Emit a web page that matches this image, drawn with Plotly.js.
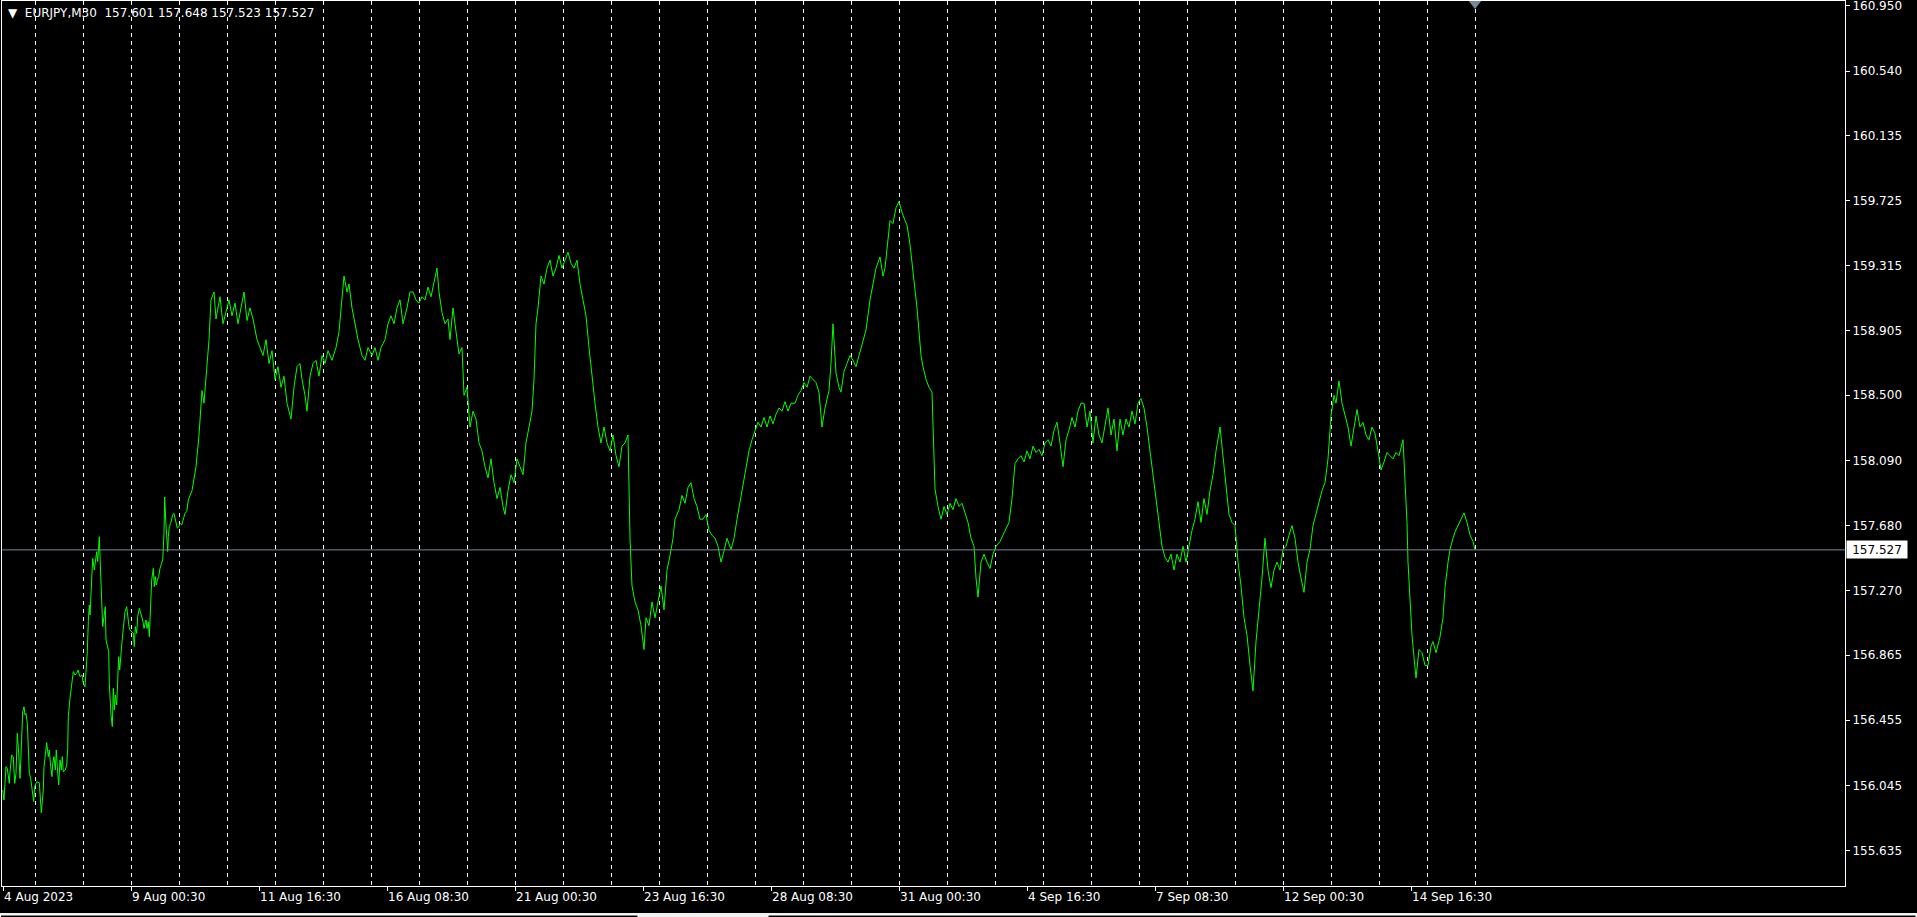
<!DOCTYPE html>
<html>
<head>
<meta charset="utf-8">
<script src="https://cdn.plot.ly/plotly-3.0.1.min.js"></script>
<style>
html,body{margin:0;padding:0;background:#000;overflow:hidden;}
#chart{width:1917px;height:917px;}
</style>
</head>
<body>
<div id="chart"></div>
<script>
// ---- DATA (EURJPY, M30, bar index -> close price) ----
const symbolName = 'EURJPY,M30';
const lastOHLC = [157.601, 157.648, 157.523, 157.527];

const barIndex = [
0.7,2,3,4,5.3,7.3,8,9.7,11.3,12.7,
14,15.3,16.7,18,18.7,20,20.7,22,23,24,
25.3,26,27.3,28.7,30.3,31.7,32.7,34.7,37.3,38.3,
39.3,40.3,41.3,42,43.7,44.7,46.3,47.3,48.7,50,
50.7,52,53.3,54.3,55.3,56.7,58,59.3,60.3,61.3,
63.3,64.7,65.7,66.3,68,69.3,71.3,73,74.7,76,
78,80,81.3,83,84,85.3,86.3,87.3,88,89,
89.7,90.7,92.3,93.3,94.7,95.7,96.3,97.3,98,99,
99.7,100.7,102,103.3,104,105.3,106.7,107.3,108,109,
110.3,111.3,112.3,113.3,114.7,115.7,116.7,117.7,118.7,119.7,
121.3,123,124.7,125.7,127,128,129.7,131.3,132.3,133.3,
134.7,135.7,137.3,139,140.7,142,144,145,146.3,147.3,
148.7,149.7,151.3,152.3,153.3,154.3,155.3,156.7,158,159.3,
160.7,162,162.7,163.7,164.7,165.7,166.3,167.3,168.7,170.7,
172,174,175.3,176.7,178,179.7,181.3,183,184.7,186.3,
190,194,197,200,202,204,207,209,212,214,
216,218,221,224,227,230,233,236,239,242,
245,248,251,255,258,261,264,267,270,273,
276,279,282,285,289,292,295,298,300,303,
305,308,311,314,317,320,323,326,330,334,
337,340,342,345,347,350,353,356,360,363,
366,370,373,376,379,383,386,389,392,395,
398,401,405,408,411,414,417,420,423,426,
429,432,435,437,440,443,446,448,451,454,
457,460,462,465,468,471,474,477,480,483,
486,489,492,495,498,501,503,506,509,512,
515,518,521,524,527,530,532,534,536,539,
542,545,548,551,554,557,560,563,566,569,
572,575,578,581,584,587,590,593,596,599,
602,605,608,611,614,617,620,623,626,628,
630,633,636,639,642,644,647,650,653,656,
659,662,665,668,671,673,677,680,683,686,
689,692,695,698,701,704,707,710,713,716,
719,722,725,729,732,735,738,741,744,747,
750,753,756,759,762,765,768,771,774,777,
780,783,786,789,793,796,799,802,805,808,
811,814,817,820,823,827,829,831,834,837,
839,842,845,848,851,854,857,860,864,868,
871,874,878,881,883,886,888,891,894,897,
900,903,905,908,910,912,915,917,919,921,
924,927,930,933,936,939,942,945,948,951,
954,957,960,963,966,969,972,974,976,979,
982,985,988,991,994,998,1001,1004,1007,1010,
1013,1016,1019,1022,1025,1028,1031,1034,1037,1040,
1043,1046,1049,1052,1055,1058,1061,1064,1067,1070,
1073,1076,1079,1082,1085,1088,1091,1094,1097,1100,
1103,1106,1109,1112,1115,1118,1121,1124,1127,1130,
1133,1136,1139,1142,1145,1148,1151,1154,1157,1160,
1163,1166,1169,1172,1175,1178,1181,1184,1187,1190,
1193,1196,1199,1202,1205,1208,1211,1214,1218,1221,
1224,1227,1230,1233,1236,1239,1242,1245,1248,1251,
1254,1257,1260,1263,1266,1269,1272,1275,1278,1281,
1284,1287,1290,1293,1296,1299,1302,1305,1308,1311,
1314,1317,1320,1323,1326,1329,1332,1334,1337,1340,
1343,1346,1349,1352,1355,1358,1361,1364,1367,1370,
1373,1376,1379,1382,1385,1388,1391,1394,1397,1401,
1403,1405,1406,1408,1410,1412,1414,1417,1420,1423,
1426,1429,1431,1434,1438,1441,1443,1446,1448,1451,
1453,1456,1459,1462,1465,1468,1471,1473
];

const closePrice = [
156.016,155.953,156.058,156.163,156.152,156.058,156.131,156.236,156.226,156.058,
156.121,156.373,156.247,156.089,156.184,156.394,156.509,156.540,156.488,156.498,
156.436,156.331,156.121,156.089,155.995,155.943,156.037,156.068,156.062,155.922,
155.873,155.943,156.016,156.163,156.278,156.314,156.226,156.268,156.163,156.100,
156.184,156.226,156.142,156.268,156.163,156.048,156.205,156.142,156.226,156.131,
156.142,156.173,156.278,156.478,156.593,156.656,156.761,156.740,156.750,156.771,
156.729,156.740,156.687,156.666,156.761,156.887,157.075,157.180,157.117,157.222,
157.338,157.474,157.401,157.453,157.516,157.453,157.526,157.610,157.484,157.317,
157.149,157.044,157.107,157.170,156.960,156.918,156.887,156.687,156.582,156.488,
156.415,156.656,156.519,156.614,156.551,156.677,156.855,156.771,156.866,156.928,
157.033,157.138,157.170,157.096,157.044,157.023,157.012,157.002,156.918,157.044,
157.002,157.107,157.159,157.117,157.086,157.033,157.086,157.033,157.075,156.981,
157.222,157.338,157.411,157.296,157.359,157.306,157.338,157.359,157.411,157.442,
157.463,157.631,157.860,157.715,157.631,157.516,157.610,157.673,157.694,157.747,
157.757,157.705,157.663,157.673,157.694,157.684,157.726,157.757,157.768,157.841,
157.90,158.05,158.25,158.53,158.45,158.60,158.85,159.10,159.15,158.98,
159.05,159.12,158.95,159.03,159.10,159.00,159.08,158.95,159.05,159.15,
158.97,159.05,158.98,158.85,158.80,158.75,158.85,158.70,158.78,158.60,
158.68,158.55,158.62,158.45,158.35,158.55,158.68,158.70,158.60,158.50,
158.40,158.62,158.70,158.72,158.62,158.75,158.70,158.78,158.72,158.80,
158.90,159.10,159.25,159.15,159.20,159.05,158.95,158.85,158.75,158.72,
158.80,158.75,158.80,158.72,158.80,158.85,158.95,159.00,158.95,159.05,
159.10,158.95,159.05,159.15,159.15,159.10,159.08,159.12,159.10,159.18,
159.12,159.20,159.30,159.15,159.02,158.95,158.98,158.85,159.05,158.90,
158.76,158.80,158.50,158.55,158.30,158.40,158.35,158.20,158.15,158.05,
157.98,158.10,157.95,157.85,157.92,157.80,157.75,157.90,158.00,157.95,
158.10,158.05,158.00,158.20,158.30,158.40,158.60,158.95,159.05,159.25,
159.20,159.30,159.35,159.25,159.30,159.38,159.30,159.35,159.40,159.33,
159.30,159.35,159.20,159.10,159.00,158.80,158.60,158.45,158.30,158.20,
158.30,158.20,158.15,158.25,158.12,158.05,158.18,158.20,158.25,157.60,
157.30,157.20,157.15,157.05,156.90,157.10,157.05,157.20,157.10,157.20,
157.30,157.15,157.40,157.49,157.60,157.72,157.78,157.87,157.82,157.92,
157.95,157.85,157.80,157.72,157.72,157.75,157.65,157.62,157.60,157.55,
157.45,157.52,157.60,157.53,157.60,157.72,157.83,157.95,158.06,158.15,
158.22,158.28,158.33,158.30,158.36,158.30,158.37,158.32,158.38,158.42,
158.40,158.46,158.40,158.45,158.45,158.50,158.53,158.58,158.55,158.62,
158.60,158.58,158.52,158.30,158.42,158.53,158.70,158.95,158.64,158.55,
158.52,158.65,158.70,158.75,158.72,158.68,158.75,158.82,158.91,159.10,
159.20,159.30,159.37,159.25,159.30,159.50,159.60,159.58,159.68,159.72,
159.65,159.60,159.57,159.45,159.35,159.22,159.05,158.91,158.75,158.68,
158.60,158.55,158.52,157.91,157.80,157.72,157.80,157.75,157.82,157.78,
157.85,157.80,157.82,157.76,157.70,157.60,157.55,157.35,157.23,157.45,
157.50,157.45,157.41,157.50,157.55,157.58,157.62,157.65,157.70,157.85,
158.07,158.10,158.12,158.08,158.15,158.10,158.18,158.14,158.16,158.12,
158.20,158.22,158.18,158.28,158.33,158.20,158.05,158.22,158.28,158.36,
158.30,158.40,158.45,158.45,158.30,158.40,158.20,158.37,158.25,158.20,
158.32,158.42,158.25,158.35,158.15,158.35,158.25,158.35,158.30,158.40,
158.32,158.45,158.48,158.42,158.30,158.15,158.00,157.85,157.70,157.55,
157.48,157.45,157.50,157.40,157.50,157.45,157.55,157.45,157.55,157.65,
157.72,157.83,157.70,157.85,157.75,157.90,158.00,158.15,158.30,158.10,
157.95,157.75,157.70,157.68,157.45,157.30,157.10,156.99,156.80,156.64,
156.95,157.14,157.35,157.60,157.40,157.29,157.40,157.45,157.40,157.53,
157.55,157.62,157.68,157.60,157.45,157.35,157.26,157.45,157.53,157.68,
157.75,157.83,157.90,157.95,158.10,158.37,158.50,158.45,158.59,158.45,
158.37,158.30,158.18,158.30,158.41,158.30,158.33,158.25,158.22,158.30,
158.26,158.15,158.03,158.08,158.14,158.12,158.10,158.14,158.12,158.22,
158.00,157.70,157.45,157.20,156.99,156.85,156.72,156.90,156.88,156.80,
156.80,156.92,156.95,156.88,156.98,157.10,157.29,157.45,157.53,157.60,
157.64,157.68,157.72,157.76,157.70,157.62,157.58,157.527
];

// time-axis labels (every 128 bars) and price-axis labels
const xTickBars = [1,129,257,385,513,641,769,897,1025,1153,1281,1409];
const xTickText = ['4 Aug 2023','9 Aug 00:30','11 Aug 16:30','16 Aug 08:30','21 Aug 00:30','23 Aug 16:30','28 Aug 08:30','31 Aug 00:30','4 Sep 16:30','7 Sep 08:30','12 Sep 00:30','14 Sep 16:30'];
const yTickVals = [160.950,160.540,160.135,159.725,159.315,158.905,158.500,158.090,157.680,157.270,156.865,156.455,156.045,155.635];
const yRange = [155.412, 160.981];
const xRange = [0, 1843];
const barsPerDay = 48;
const firstDayBar = 33;

// ---- BUILD ----
const lastBar = barIndex[barIndex.length - 1];
const lastClose = closePrice[closePrice.length - 1];
const gridBars = [];
for (let b = firstDayBar; b <= lastBar + 0.5; b += barsPerDay) gridBars.push(b);

const W = 1917, H = 917;
const M = {l: 2, r: 72, t: 1, b: 31};
const plotW = W - M.l - M.r, plotH = H - M.t - M.b;
const pxX = px => (px - M.l) / plotW;           // pixel -> paper x
const pxY = py => (H - M.b - py) / plotH;        // pixel -> paper y
const unitsPerPx = (yRange[1] - yRange[0]) / plotH;

const fontFam = 'DejaVu Sans, Verdana, sans-serif';

const traces = [
  {
    x: barIndex, y: closePrice, type: 'scatter', mode: 'lines',
    line: {color: '#00ff00', width: 1, shape: 'linear'},
    hoverinfo: 'skip'
  },
  {
    x: [lastBar], y: [yRange[1] - 2 * unitsPerPx], type: 'scatter', mode: 'markers',
    marker: {symbol: 'triangle-down', size: 12, color: '#778899', line: {width: 0}},
    cliponaxis: false, hoverinfo: 'skip'
  }
];

const layout = {
  width: W, height: H,
  paper_bgcolor: '#000000', plot_bgcolor: '#000000',
  margin: M,
  showlegend: false,
  font: {family: fontFam, size: 12, color: '#ffffff'},
  xaxis: {
    range: xRange, fixedrange: true,
    tickmode: 'array', tickvals: xTickBars, ticktext: xTickText,
    ticks: 'outside', ticklen: 4, tickwidth: 1, tickcolor: '#ffffff',
    ticklabelposition: 'outside right', ticklabeloverflow: 'allow',
    tickfont: {family: fontFam, size: 12, color: '#ffffff'},
    showgrid: false, zeroline: false,
    showline: true, linecolor: '#ffffff', linewidth: 1, mirror: true,
    minor: {tickmode: 'array', tickvals: gridBars, showgrid: true, gridcolor: '#ffffff', gridwidth: 1, griddash: '4px,4px', ticks: ''}
  },
  yaxis: {
    side: 'right', range: yRange, fixedrange: true,
    tickmode: 'array', tickvals: yTickVals, ticktext: yTickVals.map(v => v.toFixed(3)),
    ticks: 'outside', ticklen: 4, tickwidth: 1, tickcolor: '#ffffff',
    ticklabeloverflow: 'allow',
    tickfont: {family: fontFam, size: 12, color: '#ffffff'},
    showgrid: false, zeroline: false,
    showline: true, linecolor: '#ffffff', linewidth: 1, mirror: true
  },
  shapes: [
    {type: 'line', xref: 'paper', yref: 'y', x0: 0, x1: 1, y0: lastClose, y1: lastClose,
     line: {color: '#778899', width: 1}, layer: 'above'},
    // bottom tab strip
    {type: 'rect', xref: 'paper', yref: 'paper', x0: pxX(0), x1: pxX(W), y0: pxY(917), y1: pxY(913),
     fillcolor: '#f0f0f0', line: {width: 0}},
    {type: 'rect', xref: 'paper', yref: 'paper', x0: pxX(0.5), x1: pxX(638), y0: pxY(920), y1: pxY(915),
     fillcolor: '#000000', line: {color: '#ffffff', width: 1}},
    {type: 'rect', xref: 'paper', yref: 'paper', x0: pxX(768), x1: pxX(1916), y0: pxY(920), y1: pxY(915),
     fillcolor: '#000000', line: {color: '#ffffff', width: 1}}
  ],
  annotations: [
    {xref: 'paper', yref: 'paper', x: 0, y: 1, xanchor: 'left', yanchor: 'top', xshift: 4, yshift: -3,
     showarrow: false, align: 'left',
     text: '\u25BC\u00A0\u00A0' + symbolName + '\u00A0\u00A0' + lastOHLC.map(v => v.toFixed(3)).join(' '),
     font: {family: fontFam, size: 12, color: '#ffffff'}},
    {xref: 'paper', yref: 'y', x: 1, y: lastClose, xanchor: 'left', yanchor: 'middle', xshift: 1,
     showarrow: false, text: lastClose.toFixed(3), bgcolor: '#ffffff', width: 58, height: 15, borderpad: 1,
     align: 'center', font: {family: fontFam, size: 12, color: '#000000'}}
  ]
};

Plotly.newPlot('chart', traces, layout, {displayModeBar: false, staticPlot: true});
</script>
</body>
</html>
